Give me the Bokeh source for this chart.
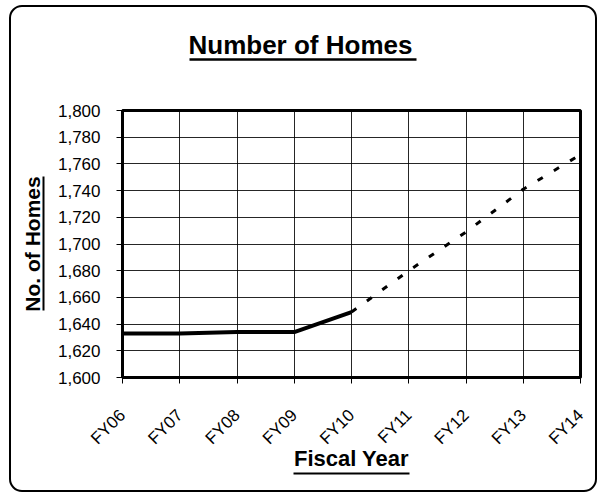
from math import pi
from bokeh.plotting import figure
from bokeh.models import Range1d, FixedTicker, NumeralTickFormatter, LinearAxis
from bokeh.embed import file_html
from bokeh.resources import INLINE

# ---- data ----
years = ["FY06", "FY07", "FY08", "FY09", "FY10", "FY11", "FY12", "FY13", "FY14"]
actual_years = ["FY06", "FY07", "FY08", "FY09", "FY10"]
actual_homes = [1633, 1633, 1634, 1634, 1649]
projected_years = ["FY10", "FY11", "FY12", "FY13", "FY14"]
projected_homes = [1649, 1680, 1709, 1741, 1767]
y_ticks = [1600, 1620, 1640, 1660, 1680, 1700, 1720, 1740, 1760, 1780, 1800]

title_text = "Number of Homes"
x_title = "Fiscal Year"
y_title = "No. of Homes"

FONT = "Liberation Sans"
FW, FH = 458, 267
pos = {y: i for i, y in enumerate(years)}

p = figure(frame_width=FW, frame_height=FH,
           min_border_left=111, min_border_right=15,
           min_border_top=103, min_border_bottom=113,
           x_range=Range1d(0, len(years) - 1),
           y_range=Range1d(y_ticks[0], y_ticks[-1]),
           output_backend="svg", toolbar_location=None)
p.background_fill_color = "white"
p.border_fill_alpha = 0
p.outline_line_color = "black"
p.outline_line_width = 3
p.outline_line_alpha = 1.0
p.styles = {"border": "2.5px solid black", "border-radius": "13px",
            "margin-left": "9px", "margin-top": "5px"}

# title
p.title.text = title_text
p.title.text_font = FONT
p.title.text_font_size = "26px"
p.title.text_font_style = "bold"
p.title.text_color = "black"
p.title.align = "left"
p.title.offset = 66
p.title.standoff = 0

# pixel ranges used only for placing decoration axes (underlines)
p.extra_x_ranges = {"deco": Range1d(0, FW)}
p.extra_y_ranges = {"deco": Range1d(0, FH)}

# grid
p.xgrid.ticker = FixedTicker(ticks=list(range(len(years))))
p.ygrid.ticker = FixedTicker(ticks=y_ticks)
for g in (p.xgrid, p.ygrid):
    g.grid_line_color = "black"
    g.grid_line_alpha = 0.85
    g.grid_line_width = 1

# lines
p.line([pos[y] for y in actual_years], actual_homes,
       line_color="black", line_width=4, line_join="round")
p.line([pos[y] for y in projected_years], projected_homes,
       line_color="black", line_width=3, line_dash="6 13")

# x axis
xa = p.xaxis[0]
xa.ticker = FixedTicker(ticks=list(range(len(years))))
xa.major_label_overrides = {i: y for i, y in enumerate(years)}
xa.major_label_orientation = pi / 4
xa.minor_tick_line_color = None
xa.major_tick_in = 0
xa.major_tick_out = 6
xa.major_tick_line_color = "black"
xa.axis_line_color = "black"
xa.major_label_standoff = 29
xa.major_label_text_font = FONT
xa.major_label_text_font_size = "17px"
xa.major_label_text_color = "black"
xa.axis_label = x_title
xa.axis_label_text_font = FONT
xa.axis_label_text_font_size = "22px"
xa.axis_label_text_font_style = "bold"
xa.axis_label_text_color = "black"
xa.axis_label_standoff = -12

# y axis
ya = p.yaxis[0]
ya.ticker = FixedTicker(ticks=y_ticks)
ya.formatter = NumeralTickFormatter(format="0,0")
ya.minor_tick_line_color = None
ya.major_tick_in = 0
ya.major_tick_out = 6
ya.major_tick_line_color = "black"
ya.axis_line_color = "black"
ya.major_label_standoff = 16
ya.major_label_text_font = FONT
ya.major_label_text_font_size = "17px"
ya.major_label_text_color = "black"


def deco_axis(dim, bounds=None, label=None, size="22px", standoff=0, line_width=2.5):
    kw = {"x_range_name": "deco"} if dim == "x" else {"y_range_name": "deco"}
    ax = LinearAxis(ticker=FixedTicker(ticks=[], minor_ticks=[]), **kw)
    if bounds is not None:
        ax.bounds = bounds
    ax.major_tick_in = 0
    ax.major_tick_out = 0
    ax.minor_tick_in = 0
    ax.minor_tick_out = 0
    ax.major_label_standoff = 0
    ax.major_tick_line_color = None
    ax.minor_tick_line_color = None
    ax.axis_line_color = "black" if line_width else None
    ax.axis_line_width = line_width or 1
    ax.axis_label = label
    ax.axis_label_standoff = standoff
    ax.axis_label_text_font = FONT
    ax.axis_label_text_font_size = size
    ax.axis_label_text_font_style = "bold"
    ax.axis_label_text_color = "black"
    return ax

# title underline: spacer, then line (title itself sits just above it)
p.add_layout(deco_axis("x", label=" ", size="1px", standoff=47, line_width=0), "above")
p.add_layout(deco_axis("x", bounds=(67, 294), label=None, line_width=2.5), "above")

# y title: spacer, then underlined rotated text
p.add_layout(deco_axis("y", label=" ", size="1px", standoff=7, line_width=0), "left")
p.add_layout(deco_axis("y", bounds=(67, 201), label=y_title, size="21px",
                       standoff=0, line_width=2), "left")

# x title underline
p.add_layout(deco_axis("x", bounds=(171, 287), label=None, line_width=2), "below")

open("out.html", "w").write(file_html(p, INLINE))
